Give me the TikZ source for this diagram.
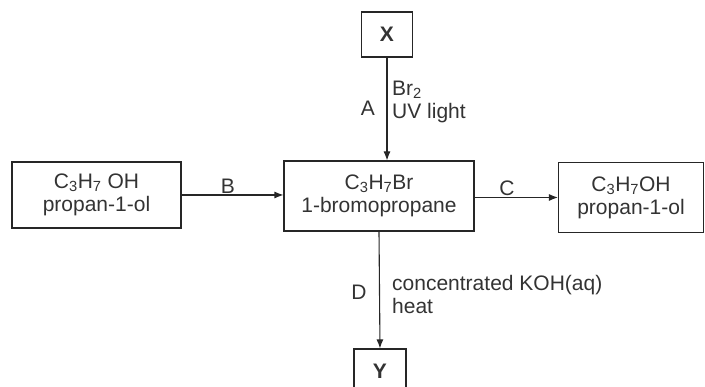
\documentclass[tikz,border=0pt]{standalone}
\usepackage{fontspec}
\setmainfont{Liberation Sans}
\usetikzlibrary{arrows.meta}

\newcommand*{\picw}{705}
\newcommand*{\pich}{387}

\begin{document}
\begin{tikzpicture}
[
	x=1pt,y=-1pt,
	font=\fontsize{21}{23}\selectfont,
	box/.style={draw=black!85,line width=1.1pt,inner sep=0pt,align=center,text=black!80},
	cond/.style={inner sep=0pt,align=left,text=black!80},
	lbl/.style={inner sep=0pt,text=black!80},
	rxn/.style={draw=black!85,line width=1.1pt,-{Latex[length=9pt,width=7pt]}}
]

	\useasboundingbox (0,0) rectangle (\picw,\pich);

	% boxes
	\node[box,minimum width=169pt,minimum height=66pt] (start) at (96.5,195) {C\textsubscript{3}H\textsubscript{7} OH\\propan-1-ol};
	\node[box,minimum width=190pt,minimum height=70pt] (brom) at (379,196) {C\textsubscript{3}H\textsubscript{7}Br\\1-bromopropane};
	\node[box,minimum width=145pt,minimum height=70pt] (prod) at (631,197.5) {C\textsubscript{3}H\textsubscript{7}OH\\propan-1-ol};
	\node[box,font=\fontsize{21}{23}\selectfont\bfseries,minimum width=51pt,minimum height=45pt] (X) at (387,34.5) {X};
	\node[box,font=\fontsize{21}{23}\selectfont\bfseries,minimum width=52pt,minimum height=45pt] (Y) at (380,371.5) {Y};

	% arrows
	\draw[rxn] (X.south) -- (X.south |- brom.north);
	\draw[rxn] (start.east) -- (start.east -| brom.west);
	\draw[rxn] (brom.east |- prod.west) -- (prod.west);
	\draw[rxn] (brom.south) -- (Y.north);

	% labels
	\node[lbl] (A) at (368,108) {A};
	\node[cond,anchor=west] (condA) at (392,101.5) {Br\textsubscript{2}\\UV light};
	\node[lbl] (B) at (228,186) {B};
	\node[lbl] (C) at (507,188) {C};
	\node[lbl] (D) at (359,292) {D};
	\node[cond,anchor=west] (condD) at (392,294) {concentrated KOH(aq)\\heat};

\end{tikzpicture}
\end{document}
